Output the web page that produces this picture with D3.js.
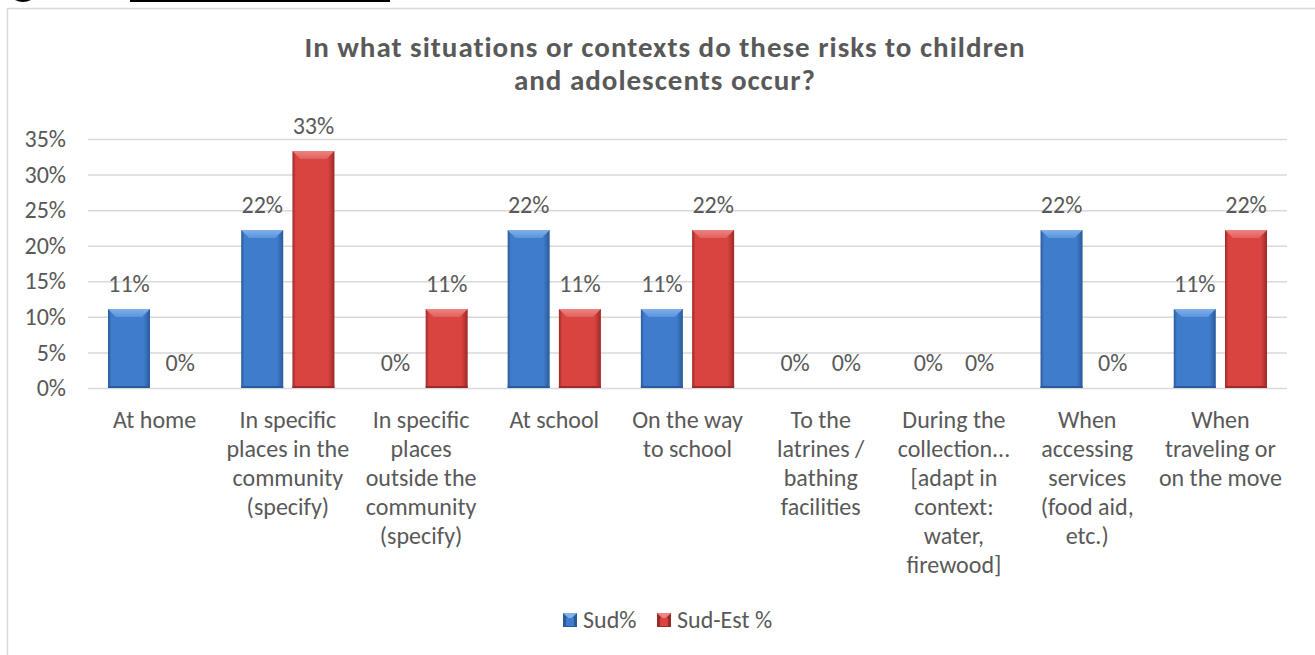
<!DOCTYPE html>
<html>
<head>
<meta charset="utf-8">
<script src="https://cdn.jsdelivr.net/npm/d3@7"></script>
<style>
  body { margin: 0; background: #fff; }
  svg { display: block; }
  text { font-family: Carlito, "Open Sans", sans-serif; fill: #595959; }
</style>
</head>
<body>
<div id="chart"></div>
<script>
// chart values
var categories = [
  ["At home"],
  ["In specific", "places in the", "community", "(specify)"],
  ["In specific", "places", "outside the", "community", "(specify)"],
  ["At school"],
  ["On the way", "to school"],
  ["To the", "latrines /", "bathing", "facilities"],
  ["During the", "collection...", "[adapt in", "context:", "water,", "firewood]"],
  ["When", "accessing", "services", "(food aid,", "etc.)"],
  ["When", "traveling or", "on the move"]
];
var seriesNames = ["Sud%", "Sud-Est %"];
var sudValues = [11.1, 22.2, 0, 22.2, 11.1, 0, 0, 22.2, 11.1];
var sudEstValues = [0, 33.3, 11.1, 11.1, 22.2, 0, 0, 0, 22.2];
var yTicks = [0, 5, 10, 15, 20, 25, 30, 35];
var titleLines = ["In what situations or contexts do these risks to children", "and adolescents occur?"];

var svgWidth = 1315;
var svgHeight = 655;

var margin = { top: 139, right: 28, bottom: 267, left: 88 };
var width = svgWidth - margin.left - margin.right;
var height = svgHeight - margin.top - margin.bottom;

var svg = d3.select("#chart")
  .append("svg")
  .attr("width", svgWidth)
  .attr("height", svgHeight);

var defs = svg.append("defs");

// bevel look, like the office chart
var palette = {
  "Sud%": { edge: "#2a5a99", body: "#3f7dcc", top: "#7fb0ea", topEdge: "#5b93dc" },
  "Sud-Est %": { edge: "#9c2a28", body: "#d94340", top: "#ee8480", topEdge: "#e0605c" }
};
seriesNames.forEach(function (s, i) {
  var c = palette[s];
  var g = defs.append("linearGradient").attr("id", "body" + i)
    .attr("x1", "0").attr("x2", "1").attr("y1", "0").attr("y2", "0");
  g.append("stop").attr("offset", "0").attr("stop-color", c.edge);
  g.append("stop").attr("offset", "0.08").attr("stop-color", c.body);
  g.append("stop").attr("offset", "0.85").attr("stop-color", c.body);
  g.append("stop").attr("offset", "1").attr("stop-color", c.edge);
  var t = defs.append("linearGradient").attr("id", "top" + i)
    .attr("x1", "0").attr("x2", "0").attr("y1", "0").attr("y2", "1");
  t.append("stop").attr("offset", "0").attr("stop-color", c.top);
  t.append("stop").attr("offset", "1").attr("stop-color", c.topEdge);
});

// chart frame and the cut heading above it
svg.append("rect")
  .attr("x", 7.5).attr("y", 8.5)
  .attr("width", 1400).attr("height", 700)
  .attr("fill", "none")
  .attr("stroke", "#d9d9d9")
  .attr("stroke-width", 1.5);
svg.append("path")
  .attr("d", "M15,0 Q23,4 31,0 Z")
  .attr("fill", "#000");
svg.append("rect")
  .attr("x", 130).attr("y", 0)
  .attr("width", 260).attr("height", 2)
  .attr("fill", "#000");

var chartGroup = svg.append("g")
  .attr("transform", "translate(" + margin.left + "," + margin.top + ")");

var x0 = d3.scaleBand()
  .domain(d3.range(categories.length))
  .range([0, width])
  .padding(0);

var x1 = d3.scaleBand()
  .domain(seriesNames)
  .range([x0.bandwidth() * 0.15, x0.bandwidth() * 0.85])
  .paddingInner(0.18);

var y = d3.scaleLinear()
  .domain([0, 35])
  .range([height, 0]);

// gridlines + y labels
var leftAxis = d3.axisLeft(y)
  .tickValues(yTicks)
  .tickFormat(function (d) { return d + "%"; })
  .tickSize(-width)
  .tickPadding(22);

var yAxis = chartGroup.append("g").call(leftAxis);
yAxis.select(".domain").remove();
yAxis.selectAll(".tick line")
  .attr("stroke", "#d9d9d9")
  .attr("stroke-width", 1.5);
yAxis.selectAll(".tick text")
  .style("font-size", "24px")
  .style("font-family", "Carlito, 'Open Sans', sans-serif")
  .style("fill", "#595959");

// bars
var rows = categories.map(function (c, i) {
  return [
    { cat: i, s: 0, name: seriesNames[0], v: sudValues[i] },
    { cat: i, s: 1, name: seriesNames[1], v: sudEstValues[i] }
  ];
});
var flat = [].concat.apply([], rows);

var barG = chartGroup.selectAll(".bar")
  .data(flat)
  .enter()
  .append("g")
  .attr("class", "bar")
  .attr("transform", function (d) {
    return "translate(" + (x0(d.cat) + x1(d.name)) + ",0)";
  });

var bw = x1.bandwidth();

barG.filter(function (d) { return d.v > 0; })
  .append("rect")
  .attr("x", 0)
  .attr("y", function (d) { return y(d.v); })
  .attr("width", bw)
  .attr("height", function (d) { return height - y(d.v); })
  .attr("fill", function (d) { return "url(#body" + d.s + ")"; });

barG.filter(function (d) { return d.v > 0; })
  .append("path")
  .attr("d", function (d) {
    var t = y(d.v), b = 8;
    return "M0," + t + "L" + bw + "," + t + "L" + (bw - b) + "," + (t + b) +
      "L" + b + "," + (t + b) + "Z";
  })
  .attr("fill", function (d) { return "url(#top" + d.s + ")"; });

barG.filter(function (d) { return d.v > 0; })
  .append("rect")
  .attr("x", 0)
  .attr("y", height - 2)
  .attr("width", bw)
  .attr("height", 2)
  .attr("fill", function (d) { return palette[d.name].edge; });

// value labels
barG.append("text")
  .attr("x", bw / 2)
  .attr("y", function (d) { return y(d.v) - 17; })
  .attr("text-anchor", "middle")
  .style("font-size", "24px")
  .text(function (d) { return Math.round(d.v) + "%"; });

// category labels
var catLabels = chartGroup.selectAll(".cat")
  .data(categories)
  .enter()
  .append("text")
  .attr("class", "cat")
  .attr("text-anchor", "middle")
  .attr("transform", function (d, i) {
    return "translate(" + (x0(i) + x0.bandwidth() / 2) + "," + (height + 40) + ")";
  })
  .style("font-size", "24px");

catLabels.selectAll("tspan")
  .data(function (d) { return d; })
  .enter()
  .append("tspan")
  .attr("x", 0)
  .attr("y", function (d, j) { return j * 29; })
  .text(function (d) { return d; });

// title
svg.selectAll(".title")
  .data(titleLines)
  .enter()
  .append("text")
  .attr("class", "title")
  .attr("x", 665)
  .attr("y", function (d, i) { return 57 + i * 33; })
  .attr("text-anchor", "middle")
  .style("font-size", "29px")
  .style("letter-spacing", "1px")
  .style("font-weight", "bold")
  .text(function (d) { return d; });

// legend
var legend = svg.append("g")
  .attr("transform", "translate(563,613)");

var legendItems = legend.selectAll(".leg")
  .data(seriesNames)
  .enter()
  .append("g")
  .attr("class", "leg")
  .attr("transform", function (d, i) { return "translate(" + (i * 94) + ",0)"; });

legendItems.append("rect")
  .attr("width", 14).attr("height", 14)
  .attr("fill", function (d) { return palette[d].edge; });
legendItems.append("path")
  .attr("d", "M0,0L14,0L7,7Z")
  .attr("fill", function (d) { return palette[d].top; });
legendItems.append("rect")
  .attr("x", 3).attr("y", 5).attr("width", 8).attr("height", 8)
  .attr("fill", function (d) { return palette[d].body; });

legendItems.append("text")
  .attr("x", 20)
  .attr("y", 15)
  .style("font-size", "24px")
  .text(function (d) { return d; });
</script>
</body>
</html>
